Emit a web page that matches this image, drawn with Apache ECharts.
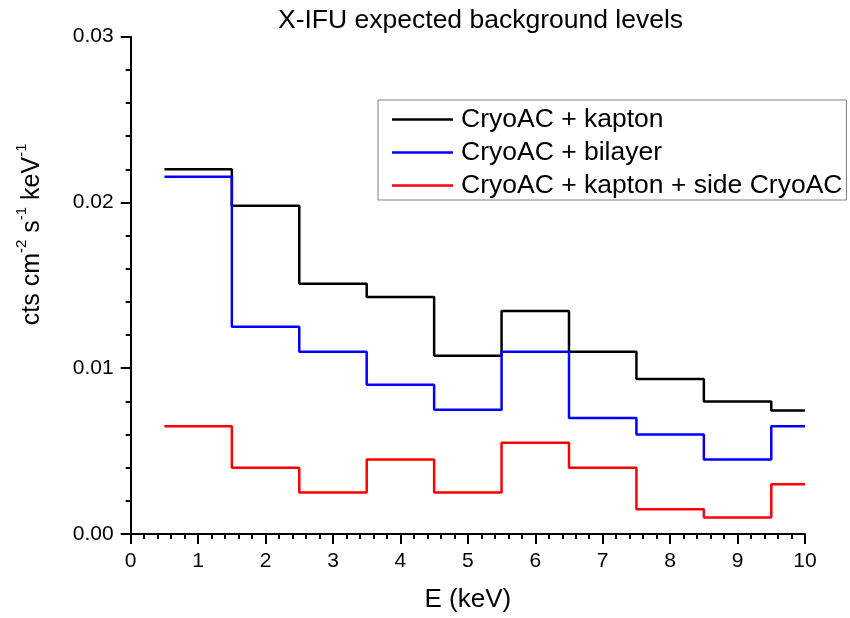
<!DOCTYPE html>
<html>
<head>
<meta charset="utf-8">
<script src="https://cdn.jsdelivr.net/npm/echarts@6/dist/echarts.min.js"></script>
<style>html,body{margin:0;padding:0;background:#fff}#c{width:850px;height:618px}</style>
</head>
<body>
<div id="c"></div>
<script>
// Bin edges (keV): each value holds from its edge to the next; last edge closes the final bin
const binEdges = [0.5, 1.5, 2.5, 3.5, 4.5, 5.5, 6.5, 7.5, 8.5, 9.5, 10];
const seriesNames = ['CryoAC + kapton', 'CryoAC + bilayer', 'CryoAC + kapton + side CryoAC'];
const kapton     = [0.0220, 0.0198, 0.0151, 0.0143, 0.01075, 0.01345, 0.0110, 0.00935, 0.0080, 0.00745];
const bilayer    = [0.02155, 0.0125, 0.0110, 0.0090, 0.0075, 0.0110, 0.0070, 0.0060, 0.0045, 0.0065];
const sideCryoAC = [0.0065, 0.0040, 0.0025, 0.0045, 0.0025, 0.0055, 0.0040, 0.0015, 0.0010, 0.0030];
const xTicks = [0, 1, 2, 3, 4, 5, 6, 7, 8, 9, 10];
const yTicks = [0.00, 0.01, 0.02, 0.03];

function steps(vals) {
  const d = [];
  for (let i = 0; i < vals.length; i++) d.push([binEdges[i], vals[i]]);
  d.push([binEdges[binEdges.length - 1], vals[vals.length - 1]]);
  return d;
}

const FONT = 'Liberation Sans';
const colors = ['#000000', '#0000ff', '#ff0000'];
const allVals = [kapton, bilayer, sideCryoAC];

const chart = echarts.init(document.getElementById('c'), null, {renderer: 'canvas'});
chart.setOption({
  animation: false,
  backgroundColor: '#ffffff',
  title: {
    text: 'X-IFU expected background levels',
    left: 278, top: 7, padding: 0,
    textStyle: {fontFamily: FONT, fontSize: 26.5, fontWeight: 'normal', color: '#000'}
  },
  legend: {
    orient: 'vertical',
    left: 378, top: 100,
    padding: [6, 4, 1, 14],
    borderColor: '#808080', borderWidth: 1,
    icon: 'rect',
    itemWidth: 61, itemHeight: 2.5, itemGap: 6,
    data: seriesNames,
    textStyle: {fontFamily: FONT, fontSize: 26.5, color: '#000', lineHeight: 26, padding: [0, 0, 0, 3]}
  },
  grid: {left: 130.7, right: 45, top: 36.7, bottom: 82.7, containLabel: false},
  xAxis: {
    type: 'value',
    min: xTicks[0], max: xTicks[xTicks.length - 1], interval: 1,
    name: 'E (keV)', nameLocation: 'middle', nameGap: 53,
    nameTextStyle: {fontFamily: FONT, fontSize: 26, color: '#000'},
    axisLine: {show: true, lineStyle: {color: '#000', width: 2}},
    axisTick: {show: true, length: 10, inside: false, lineStyle: {color: '#000', width: 2}},
    minorTick: {show: true, splitNumber: 5, length: 5, lineStyle: {color: '#000', width: 2}},
    splitLine: {show: false},
    axisLabel: {fontFamily: FONT, fontSize: 21, color: '#000', margin: 17}
  },
  yAxis: {
    type: 'value',
    min: yTicks[0], max: yTicks[yTicks.length - 1], interval: 0.01,
    name: '{m|cts cm}{sup|-2}{m| s}{sup|-1}{m| keV}{sup|-1}',
    nameLocation: 'middle', nameGap: 86, nameRotate: 90,
    nameTextStyle: {
      fontFamily: FONT, fontSize: 25, color: '#000',
      padding: [0, 0, 0, 102],
      rich: {
        m: {fontFamily: FONT, fontSize: 25, color: '#000', lineHeight: 30, verticalAlign: 'bottom'},
        sup: {fontFamily: FONT, fontSize: 15, color: '#000', lineHeight: 15, verticalAlign: 'top'}
      }
    },
    axisLine: {show: true, lineStyle: {color: '#000', width: 2}},
    axisTick: {show: true, length: 10, inside: false, lineStyle: {color: '#000', width: 2}},
    minorTick: {show: true, splitNumber: 5, length: 5, lineStyle: {color: '#000', width: 2}},
    splitLine: {show: false},
    axisLabel: {fontFamily: FONT, fontSize: 21, color: '#000', margin: 17,
      formatter: v => v.toFixed(2)}
  },
  series: seriesNames.map((n, i) => ({
    name: n, type: 'line', step: 'end',
    symbol: 'none', showSymbol: false,
    color: colors[i],
    itemStyle: {color: colors[i]},
    lineStyle: {color: colors[i], width: 2.5},
    data: steps(allVals[i])
  }))
});
</script>
</body>
</html>
